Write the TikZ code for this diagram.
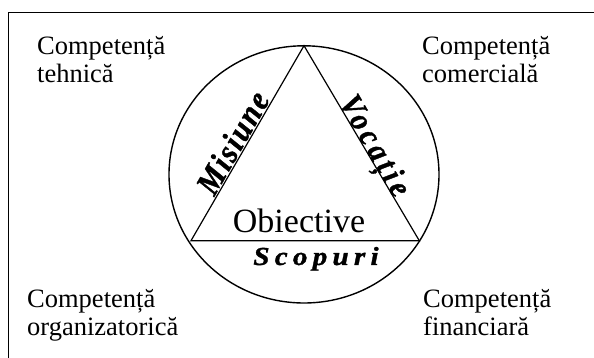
\documentclass[tikz,border=0pt]{standalone}
\usepackage{fontspec}
\setmainfont{Liberation Serif}
\newfontfamily\mifont[LetterSpace=6,FakeBold=1.2]{Liberation Serif}
\newfontfamily\vofont[LetterSpace=14,FakeBold=1.2]{Liberation Serif}
\newfontfamily\scfont[LetterSpace=18,FakeBold=1.2]{Liberation Serif}
\begin{document}
\begin{tikzpicture}[x=1pt,y=1pt,
  lbl/.style={align=left, inner sep=0pt, font=\fontsize{26.5}{28}\selectfont, anchor=base west},
  wa/.style={inner sep=0pt, anchor=base},
  edge/.style={line width=1.2pt}]
\useasboundingbox (0,0) rectangle (594,358);
\draw[line width=1.3pt] (8.3,0) -- (8.3,345.7) -- (594,345.7);
\coordinate (A) at (304,312.3);
\coordinate (L) at (191,117.3);
\coordinate (R) at (419.3,117.3);
\coordinate (C) at (304,183.6);
\draw[line width=1.4pt] (C) ellipse [x radius=135, y radius=128.6];
\draw[edge] (A) -- (L) -- (R) -- cycle;
\node[lbl] (tl) at (37,275) {Competență\\tehnică};
\node[lbl] (tr) at (422,275) {Competență\\comercială};
\node[lbl] (bl) at (27,22) {Competență\\organizatorică};
\node[lbl] (br) at (423,22) {Competență\\financiară};
\node[inner sep=0pt, font=\fontsize{34}{34}\selectfont, anchor=base] (ob) at (299,125) {Obiective};
\node[wa, rotate=60, font=\mifont\bfseries\itshape\fontsize{30}{30}\selectfont, yscale=1.12] (mi) at (242.4,209.8) {Misiune};
\node[wa, rotate=-60, font=\vofont\bfseries\itshape\fontsize{29}{29}\selectfont, yscale=1.12] (vo) at (366.5,207.3) {Vocație};
\node[wa, font=\scfont\bfseries\itshape\fontsize{26}{26}\selectfont, xscale=1.12] (sc) at (316,93) {Scopuri};
\end{tikzpicture}
\end{document}
